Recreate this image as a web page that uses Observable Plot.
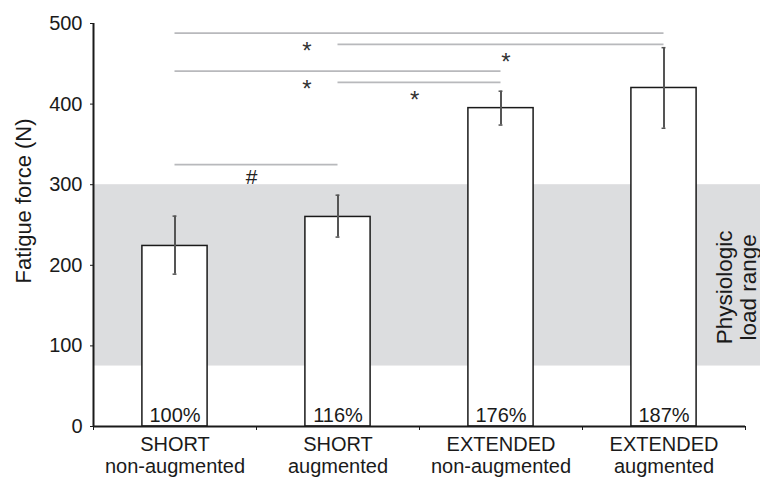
<!DOCTYPE html>
<html><head><meta charset="utf-8">
<script src="https://cdn.jsdelivr.net/npm/d3@7"></script>
<script src="https://cdn.jsdelivr.net/npm/@observablehq/plot@0.6"></script>
<style>
body{margin:0;background:#fff;}
#chart{width:760px;height:481px;}
</style></head><body><div id="chart"></div>
<script>
// ---- data ----
const groups = ["SHORT\nnon-augmented", "SHORT\naugmented", "EXTENDED\nnon-augmented", "EXTENDED\naugmented"];
const force = [224, 260, 395, 420];
const errLow = [189, 235, 374, 370];
const errHigh = [261, 287, 416, 470];
const pctLabels = ["100%", "116%", "176%", "187%"];
const loadRange = [75, 300];
const loadLabel = "Physiologic\nload range";
const yTicks = [0, 100, 200, 300, 400, 500];
const yLabel = "Fatigue force (N)";
// significance brackets (group indices), level and marker
const sigFrom = [0, 1, 0, 1, 0];
const sigTo = [3, 3, 2, 2, 1];
const sigY = [488, 474, 441, 427, 325];
const sigMark = ["*", "*", "*", "*", "#"];
const sigMarkAt = [1.31, 2.53, 1.31, 1.97, 0.97];

// ---- tables ----
const bars = groups.map((g, i) => ({i, g, v: force[i], lo: errLow[i], hi: errHigh[i], pct: pctLabels[i]}));
const sig = sigFrom.map((f, k) => ({f, t: sigTo[k], y: sigY[k], m: sigMark[k], mx: sigMarkAt[k]}));
const n = groups.length;
const BAR = 0.2;   // half bar width in group units
const CAP = 0.012; // half cap width
const font = "'Liberation Sans', Arial, Helvetica, sans-serif";
const ink = "#1a1a1a";

const chart = Plot.plot({
  width: 760,
  height: 481,
  marginLeft: 93,
  marginRight: 0,
  marginTop: 23,
  marginBottom: 55,
  style: {fontFamily: font, fontSize: "20px", color: ink, background: "#fff"},
  x: {type: "linear", domain: [0, n + 0.092], axis: null},
  y: {domain: [0, 500], axis: null},
  marks: [
    // physiologic load band
    Plot.rect([loadRange], {x1: 0, x2: n + 0.092, y1: d => d[0], y2: d => d[1], fill: "#dcdddf"}),
    // significance lines
    Plot.ruleY(sig, {y: "y", x1: d => d.f + 0.5, x2: d => d.t + 0.5, stroke: "#b8b9bc", strokeWidth: 1.7}),
    Plot.text(sig.filter(d => d.m === "*"), {x: "mx", y: "y", text: "m", lineAnchor: "bottom", dy: 26, fontSize: 24, fill: "#333"}),
    Plot.text(sig.filter(d => d.m === "#"), {x: "mx", y: "y", text: "m", lineAnchor: "bottom", dy: 19, fontSize: 21, fill: "#222"}),
    // bars
    Plot.rect(bars, {x1: d => d.i + 0.5 - BAR, x2: d => d.i + 0.5 + BAR, y1: 0, y2: "v", fill: "#fff", stroke: ink, strokeWidth: 1.5}),
    // error bars
    Plot.ruleX(bars, {x: d => d.i + 0.5, y1: "lo", y2: "hi", stroke: "#555", strokeWidth: 2}),
    Plot.ruleY(bars, {y: "lo", x1: d => d.i + 0.5 - CAP, x2: d => d.i + 0.5 + CAP, stroke: "#555", strokeWidth: 1.5}),
    Plot.ruleY(bars, {y: "hi", x1: d => d.i + 0.5 - CAP, x2: d => d.i + 0.5 + CAP, stroke: "#555", strokeWidth: 1.5}),
    // axes
    Plot.ruleY([0], {x1: 0, x2: n, stroke: ink, strokeWidth: 2}),
    Plot.ruleX(d3.range(n + 1), {x: d => d, y1: 0, y2: 0, insetBottom: -4, stroke: ink, strokeWidth: 1}),
    Plot.ruleX([0], {y1: 0, y2: 500, stroke: ink, strokeWidth: 2}),
    Plot.axisY(yTicks, {tickSize: 3, tickPadding: 8, fontSize: 20, label: null, stroke: ink, fill: ink}),
    // percent labels
    Plot.text(bars, {x: d => d.i + 0.5, y: 0, text: "pct", lineAnchor: "bottom", dy: -5, fontSize: 20, fill: ink}),
    // category labels
    Plot.text(bars, {x: d => d.i + 0.5, y: 0, text: "g", lineAnchor: "top", lineHeight: 1.1, dy: 9, fontSize: 20, fill: ink}),
    // y label
    Plot.text([yLabel], {frameAnchor: "left", textAnchor: "middle", text: d => d, rotate: -90, dx: -70, dy: -24, fontSize: 22, fill: ink}),
    // band label
    Plot.text([loadLabel], {frameAnchor: "right", textAnchor: "middle", y: (loadRange[0] + loadRange[1]) / 2, text: d => d, rotate: -90, lineAnchor: "middle", lineHeight: 1.07, dx: -24, dy: 12, fontSize: 22.5, fill: ink})
  ]
});
document.getElementById("chart").appendChild(chart);
</script>
</body></html>
